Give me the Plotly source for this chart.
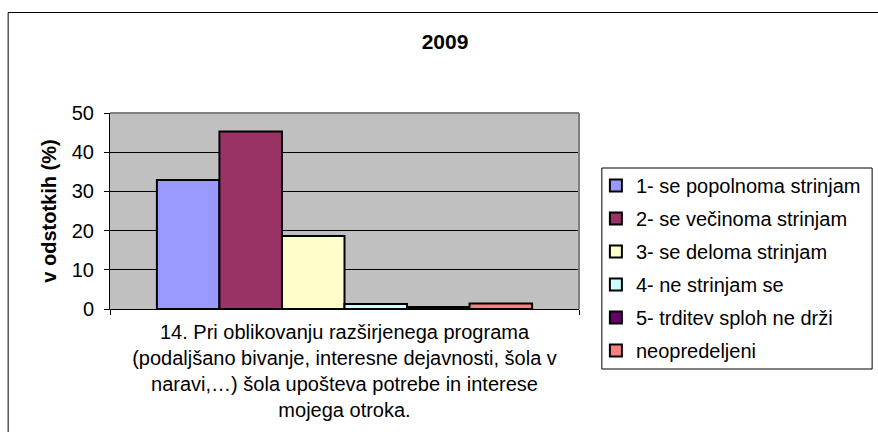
import plotly.graph_objects as go

# Survey answers for question 14, year 2009 (percent of respondents)
question = ["14. Pri oblikovanju razširjenega programa<br>"
            "(podaljšano bivanje, interesne dejavnosti, šola v<br>"
            "naravi,…) šola upošteva potrebe in interese<br>"
            "mojega otroka."]
answers = [
    "1- se popolnoma strinjam",
    "2- se večinoma strinjam",
    "3- se deloma strinjam",
    "4- ne strinjam se",
    "5- trditev sploh ne drži",
    "neopredeljeni",
]
shares = [32.9, 45.3, 18.6, 1.3, 0.5, 1.4]
colors = ["#9999FF", "#993366", "#FFFFCC", "#CCFFFF", "#660066", "#FF8080"]
y_ticks = [0, 10, 20, 30, 40, 50]

W, H = 878, 432
L, R, T, B = 110, 582, 113, 309  # plot area in pixels

def px(x):
    return (x - L) / (R - L)

def py(y):
    return (B - y) / (B - T)

FONT = "Liberation Sans, Arial, sans-serif"
FS = 20

fig = go.Figure()
for i, (name, val, col) in enumerate(zip(answers, shares, colors)):
    fig.add_trace(go.Bar(
        x=question, y=[val], name=name, legendgroup=f"g{i}",
        marker=dict(color=col, line=dict(color="black", width=2)),
    ))

shapes = [
    # plot area frame (top and right)
    dict(type="line", xref="paper", yref="paper", x0=0, x1=1, y0=1, y1=1,
         line=dict(color="#808080", width=2)),
    dict(type="line", xref="paper", yref="paper", x0=1, x1=1, y0=0, y1=1,
         line=dict(color="#808080", width=2)),
    # legend box
    dict(type="rect", xref="paper", yref="paper",
         x0=px(605), x1=px(877), y0=py(369), y1=py(168),
         line=dict(color="black", width=1), fillcolor="rgba(0,0,0,0)"),
    # chart frame
    dict(type="rect", xref="paper", yref="paper",
         x0=px(7.5), x1=px(900), y0=py(460), y1=py(12.5),
         line=dict(color="black", width=1), fillcolor="rgba(0,0,0,0)"),
]

fig.update_layout(
    width=W, height=H,
    margin=dict(l=L, r=W - R, t=T, b=H - B, pad=0),
    paper_bgcolor="white",
    plot_bgcolor="#C0C0C0",
    font=dict(family=FONT, size=FS, color="black"),
    barmode="group", bargap=0.2, bargroupgap=0,
    title=dict(text="<b>2009</b>", x=445 / W, y=1 - 42 / H,
               xref="container", yref="container",
               xanchor="center", yanchor="middle",
               font=dict(size=21, family=FONT)),
    showlegend=True,
    legend=dict(x=px(599), y=py(166), xanchor="left", yanchor="top",
                bgcolor="rgba(0,0,0,0)", borderwidth=0,
                tracegroupgap=4, maxheight=300,
                font=dict(size=FS, family=FONT),
                traceorder="grouped"),
    shapes=shapes,
)
fig.update_xaxes(
    type="category", showline=True, linecolor="black", linewidth=1,
    ticks="outside", tickson="boundaries", ticklen=5, tickcolor="black",
    showgrid=False, ticklabelstandoff=5,
)
fig.update_yaxes(
    range=[0, 50], tickvals=y_ticks, showline=True, linecolor="black",
    linewidth=1, ticks="outside", ticklen=5, tickcolor="black",
    gridcolor="black", gridwidth=1, zeroline=False, ticklabelstandoff=6,
    title=dict(text="<b>v odstotkih (%)</b>", standoff=9,
               font=dict(size=FS, family=FONT)),
)

fig.write_html("out.html")
